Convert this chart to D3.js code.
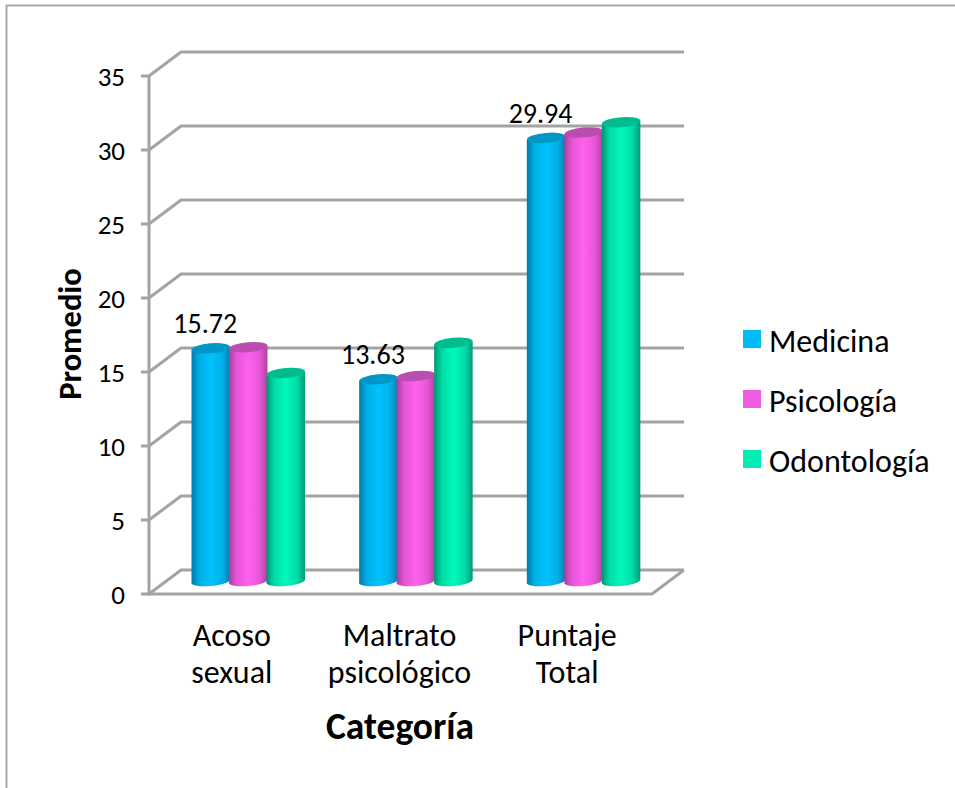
<!DOCTYPE html>
<html><head><meta charset="utf-8">
<script src="https://cdn.jsdelivr.net/npm/d3@7"></script>
<style>html,body{margin:0;padding:0;background:#fff}svg{display:block}text{font-family:Carlito,Lato,"Open Sans",sans-serif;fill:#000}</style>
</head><body><div id="c"></div>
<script>
const categories=[["Acoso","sexual"],["Maltrato","psicológico"],["Puntaje","Total"]];
const seriesNames=["Medicina","Psicología","Odontología"];
const medicina=[15.72,13.63,29.94];
const psicologia=[15.8,13.85,30.3];
const odontologia=[14.05,16.1,31.0];
const allSeries=[medicina,psicologia,odontologia];
const tickValues=[0,5,10,15,20,25,30,35];
const dataLabels=["15.72","13.63","29.94"];
const legendFill=["#00bbf5","#f15de0","#00edb4"];
const ramps=[["#0078a8","#00aee6","#00c2ff","#00b0e8","#0080b0"],
             ["#a83e9c","#e655d6","#ff62ee","#e655d6","#b040a4"],
             ["#00936f","#00dba6","#00f8bc","#00dba6","#009c76"]];
const topFill=["#0097c6","#bb4cb0","#00bd90"];

const W=955,H=788,dx=32,dy=-24;
const svg=d3.select("#c").append("svg").attr("width",W).attr("height",H);
const y=d3.scaleLinear().domain([0,35]).range([594,76]);
const x=d3.scaleBand().domain(d3.range(3)).range([149,652]);
const inner=d3.scaleBand().domain(d3.range(3)).range([43,155.5]);
const yBar=d3.scaleLinear().domain([0,35]).range([581,63]);
const grey="#a3a3a3";

const defs=svg.append("defs");
ramps.forEach((r,i)=>{const g=defs.append("linearGradient").attr("id","g"+i);
  r.forEach((c,k)=>g.append("stop").attr("offset",[0,.2,.5,.8,1][k]).attr("stop-color",c));});

// page frame
svg.append("path").attr("d",`M6.5,788V5.5H${W}`).attr("fill","none").attr("stroke","#a8a8a8").attr("stroke-width",2);

// walls
const g=svg.append("g").attr("fill","none").attr("stroke",grey).attr("stroke-width",3);
tickValues.forEach(v=>{
  const Y=y(v);
  g.append("path").attr("d",`M141,${Y}H149L${149+dx},${Y+dy}H${652+dx}`);
});
g.append("path").attr("d",`M149,${y(35)}V${y(0)}H652L${652+dx},${y(0)+dy}`);

// tick labels
svg.append("g").selectAll("text").data(tickValues).join("text")
  .attr("x",125).attr("y",d=>y(d)+10).attr("text-anchor","end").attr("font-size",27).text(d=>d);

// cylinders
const rx=inner.bandwidth()/2+0.5, ry=5, tilt=-5;
allSeries.forEach((vals,s)=>{
  const gs=svg.append("g");
  vals.forEach((v,c)=>{
    const cx=x(c)+inner(s)+inner.bandwidth()/2, t=yBar(v), b=yBar(0);
    gs.append("path")
      .attr("d",`M${cx-rx},${t+1.5}V${b+1}A${rx},${ry} ${tilt} 0 0 ${cx+rx},${b-1}V${t-1.5}Z`)
      .attr("fill",`url(#g${s})`);
    gs.append("ellipse").attr("cx",cx).attr("cy",t).attr("rx",rx).attr("ry",ry)
      .attr("transform",`rotate(${tilt} ${cx} ${t})`).attr("fill",topFill[s]);
  });
});

// data labels
svg.append("g").selectAll("text").data(dataLabels).join("text")
  .attr("x",(d,i)=>x(i)+inner(0)+inner.bandwidth()/2-5.5)
  .attr("y",(d,i)=>yBar(medicina[i])-15)
  .attr("text-anchor","middle").attr("font-size",28).text(d=>d);

// category labels
const cat=svg.append("g").selectAll("text").data(categories).join("text")
  .attr("text-anchor","middle").attr("font-size",32);
cat.each(function(d,i){
  const t=d3.select(this);
  d.forEach((line,k)=>t.append("tspan").attr("x",x(i)+x.bandwidth()/2-1).attr("y",646+k*37).text(line));
});

// axis titles
svg.append("text").attr("x",400).attr("y",739).attr("text-anchor","middle")
  .attr("font-size",37.5).attr("font-weight",700).text("Categoría");
svg.append("text").attr("transform","translate(81,334) rotate(-90)").attr("text-anchor","middle")
  .attr("font-size",32.5).attr("font-weight",700).text("Promedio");

// legend
const lg=svg.append("g").selectAll("g").data(seriesNames).join("g")
  .attr("transform",(d,i)=>`translate(743,${330+i*60})`);
lg.append("rect").attr("width",18).attr("height",18).attr("fill",(d,i)=>legendFill[i]);
lg.append("text").attr("x",26).attr("y",22).attr("font-size",32).text(d=>d);
</script></body></html>
